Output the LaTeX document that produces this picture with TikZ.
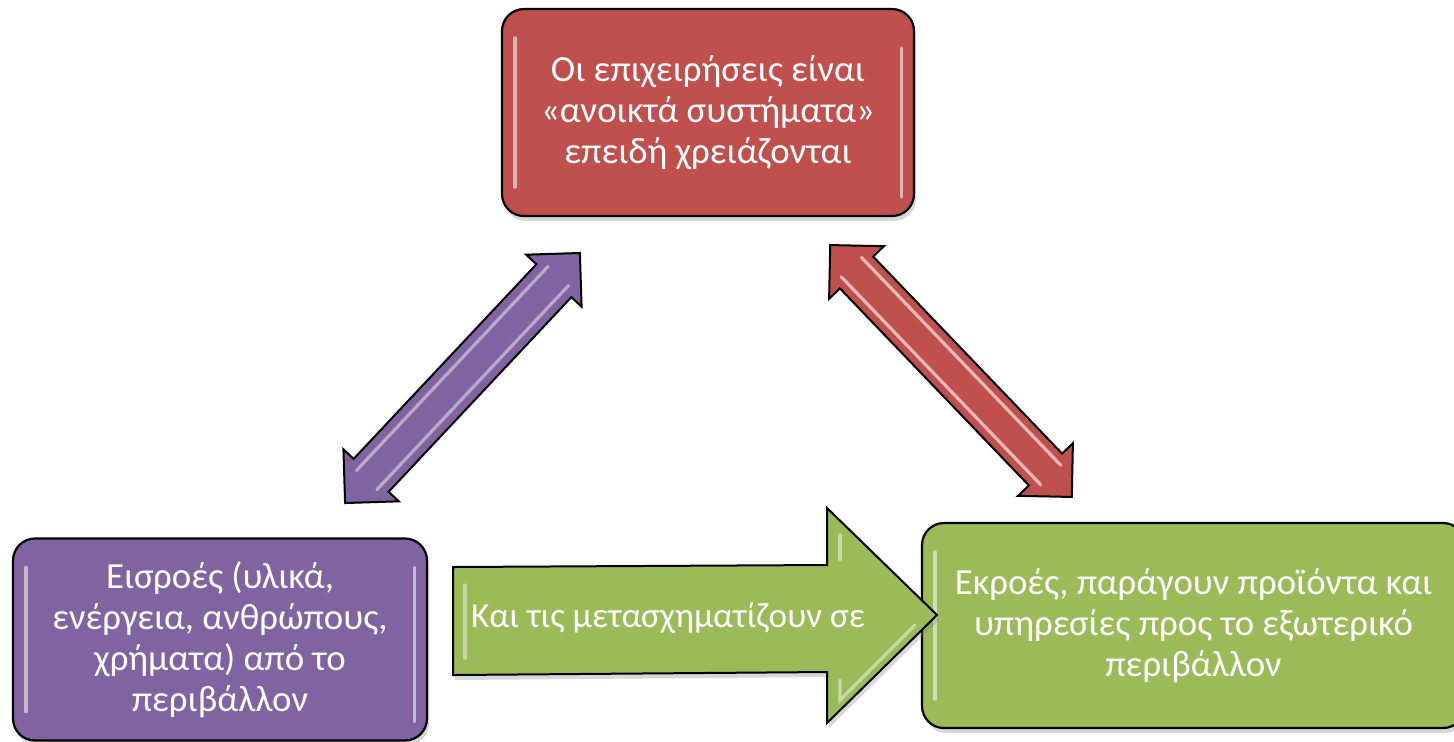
\documentclass[tikz,border=0pt]{standalone}
\usepackage{fontspec}
\setmainfont{Carlito}
\usetikzlibrary{calc,shadows}
\definecolor{boxred}{HTML}{C0504D}
\definecolor{boxpurple}{HTML}{8064A2}
\definecolor{boxgreen}{HTML}{9BBB59}
\begin{document}
\begin{tikzpicture}[x=0.5pt,y=-0.5pt,
  box/.style={draw=black, line width=1.1pt, rounded corners=11pt, text=white,
    align=center, inner sep=0pt,
    font=\fontsize{18.4pt}{20.5pt}\selectfont,
    drop shadow={opacity=0.3, shadow xshift=1pt, shadow yshift=-2.5pt}},
  arrowline/.style={draw=black, line width=1pt, line join=miter},
  gloss/.style={draw=white, line width=1.6pt, opacity=0.55, line cap=round},
  lbl/.style={text=white, font=\fontsize{17.6pt}{20.5pt}\selectfont, inner sep=0pt}]
\clip (0,0) rectangle (1454,741);
\fill[white] (0,0) rectangle (1454,741);

% boxes
\node[box, fill=boxred, minimum width=206pt, minimum height=103.5pt] (top) at (708,112.5)
  {\raisebox{-1.5pt}{\parbox{200pt}{\centering Οι επιχειρήσεις είναι\\«ανοικτά συστήματα»\\επειδή χρειάζονται}}};
\node[box, fill=boxpurple, minimum width=207pt, minimum height=101pt] (inp) at (220,639.5)
  {Εισροές (υλικά,\\ενέργεια, ανθρώπους,\\χρήματα) από το\\περιβάλλον};
\node[box, fill=boxgreen, minimum width=271.5pt, minimum height=102.5pt] (out) at (1193.5,625.5)
  {Εκροές, παράγουν προϊόντα και\\υπηρεσίες προς το εξωτερικό\\περιβάλλον};

% box gloss highlights
\draw[gloss] ($(top.north west)+(14,30)$) -- ($(top.south west)+(14,-30)$);
\draw[gloss] ($(top.north east)+(-14,40)$) -- ($(top.south east)+(-14,-20)$);
\draw[gloss] ($(inp.north west)+(14,30)$) -- ($(inp.south west)+(14,-30)$);
\draw[gloss] ($(inp.north east)+(-14,30)$) -- ($(inp.south east)+(-14,-20)$);
\draw[gloss] ($(out.north west)+(14,30)$) -- ($(out.south west)+(14,-30)$);

% purple double arrow between inputs and top
\coordinate (pA) at (345,503);
\coordinate (pB) at (580,253);
\begin{scope}[shift={($(pA)!0.5!(pB)$)}, rotate=46.8]
  \path[arrowline, fill=boxpurple]
    (-85.75pt,0pt) -- (-66.75pt,19pt) -- (-66.75pt,12pt) -- (66.75pt,12pt) -- (66.75pt,19pt)
    -- (85.75pt,0pt) -- (66.75pt,-19pt) -- (66.75pt,-12pt) -- (-66.75pt,-12pt) -- (-66.75pt,-19pt) -- cycle;
  \draw[gloss, opacity=0.45] (-70pt,7pt) -- (70pt,7pt);
  \draw[gloss, opacity=0.45] (-70pt,-7pt) -- (70pt,-7pt);
\end{scope}

% red double arrow between top and outputs
\coordinate (rA) at (830,245);
\coordinate (rB) at (1072,497);
\begin{scope}[shift={($(rA)!0.5!(rB)$)}, rotate=-46.2]
  \path[arrowline, fill=boxred]
    (-87.25pt,0pt) -- (-68.25pt,19pt) -- (-68.25pt,11.5pt) -- (68.25pt,11.5pt) -- (68.25pt,19pt)
    -- (87.25pt,0pt) -- (68.25pt,-19pt) -- (68.25pt,-11.5pt) -- (-68.25pt,-11.5pt) -- (-68.25pt,-19pt) -- cycle;
  \draw[gloss, opacity=0.6] (-72pt,7pt) -- (72pt,7pt);
  \draw[gloss, opacity=0.6] (-72pt,-7pt) -- (72pt,-7pt);
\end{scope}

% green block arrow from inputs to outputs
\coordinate (gS) at (453,620);
\coordinate (gT) at (937,615);
\path[arrowline, fill=boxgreen, drop shadow={opacity=0.3, shadow xshift=1pt, shadow yshift=-2.5pt}]
  (453,567) -- (827,565) -- (827,508) -- (gT) -- (827,723) -- (827,672) -- (453,675) -- cycle;
\draw[gloss, opacity=0.45] (465,585) -- (465,658);
\draw[gloss, opacity=0.45] (840,535) -- (840,560);
\draw[gloss, opacity=0.45] (840,680) -- (840,700) -- (915,625);
\node[lbl] (gl) at (668,618) {Και τις μετασχηματίζουν σε};
\end{tikzpicture}
\end{document}
